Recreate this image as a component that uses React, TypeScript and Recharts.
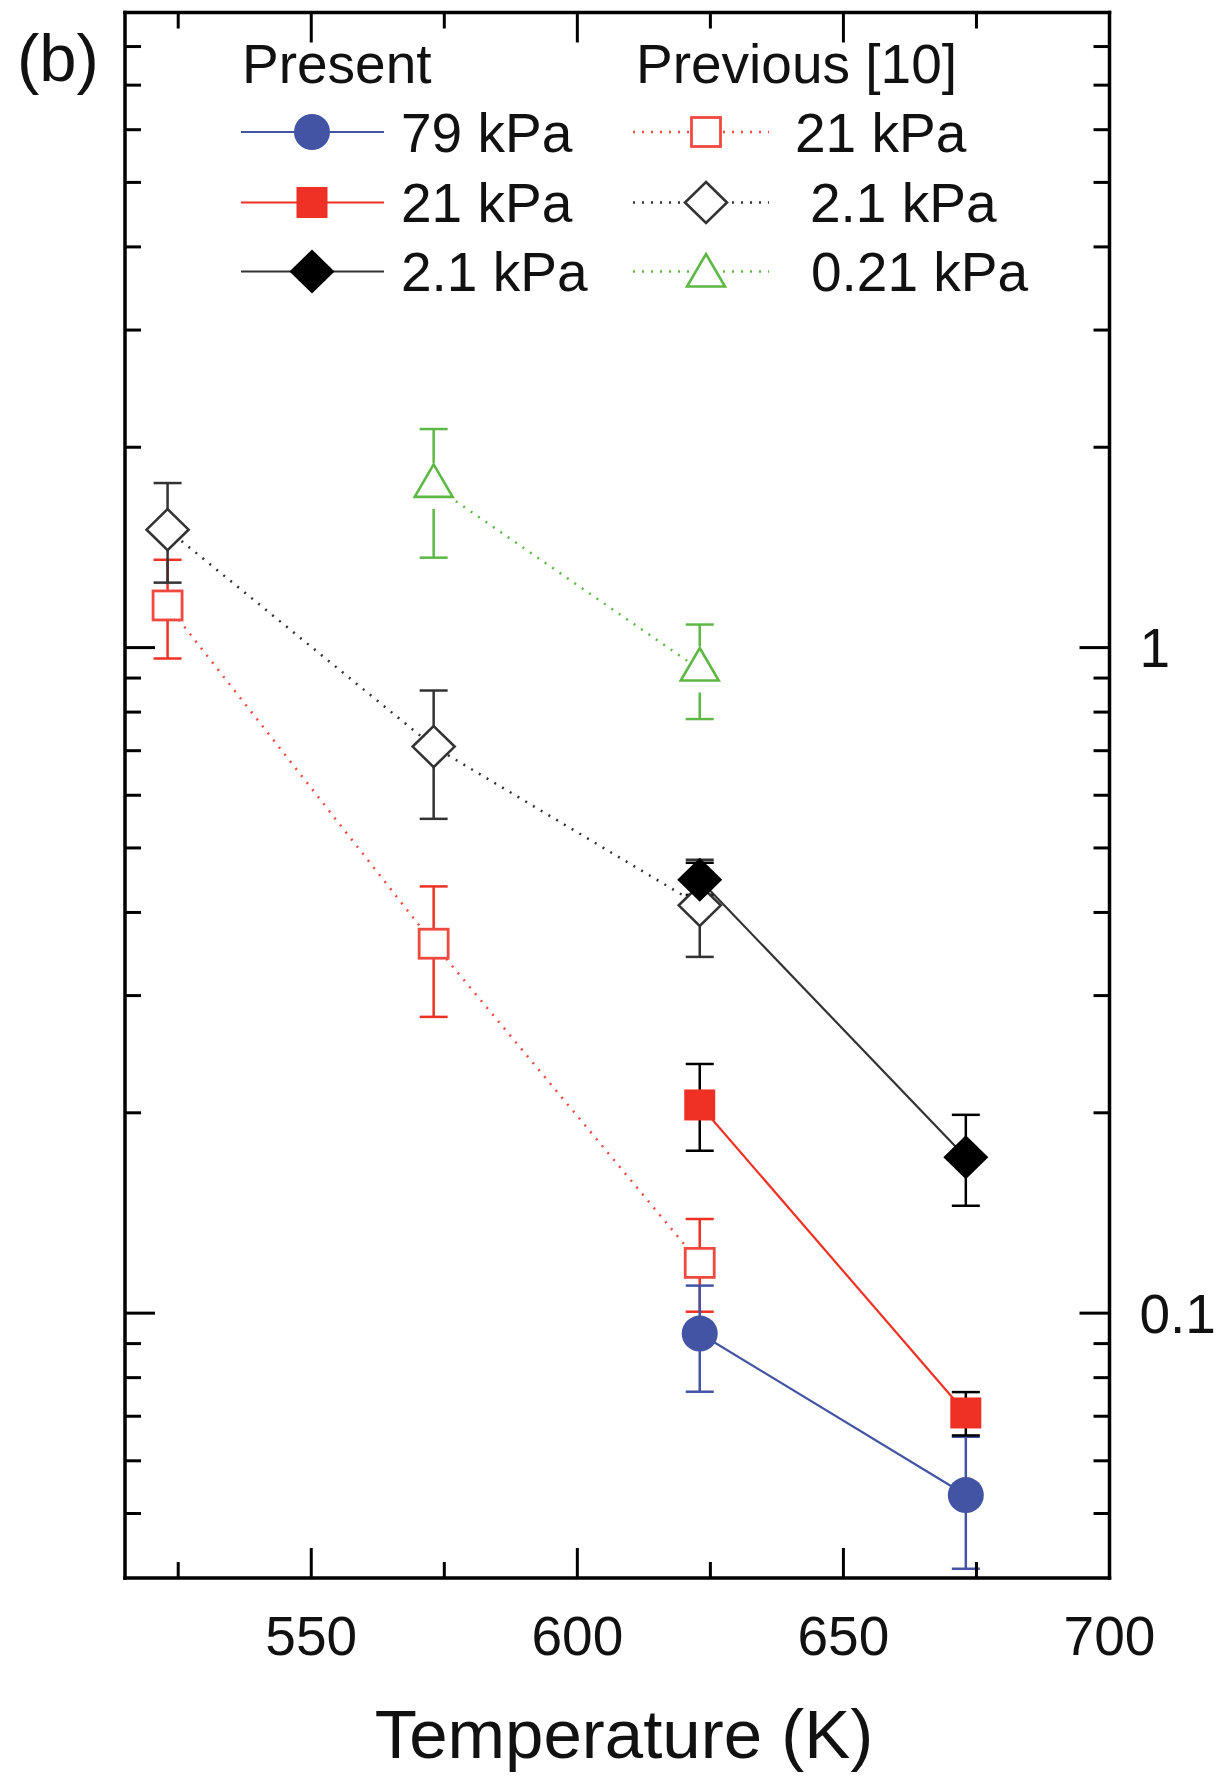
import React from 'react';
import { ComposedChart, Line, XAxis, YAxis, ErrorBar, Customized } from 'recharts';

const FONT = '"Liberation Sans", Arial, Helvetica, sans-serif';

// Temperatures (K)
const presentT = [623, 673];
const previousT = [523, 573, 623];
const previous021T = [573, 623];

// Present: 79 kPa
const present79K = [0.0932, 0.0533];
const present79Lo = [0.0762, 0.0413];
const present79Hi = [0.11, 0.0652];
// Present: 21 kPa
const present21K = [0.2055, 0.0708];
const present21Lo = [0.1754, 0.0655];
const present21Hi = [0.2368, 0.0761];
// Present: 2.1 kPa
const present2K = [0.448, 0.1715];
const present2Lo = [0.425, 0.145];
const present2Hi = [0.475, 0.1986];

// Previous [10]: 21 kPa
const prev21K = [1.157, 0.359, 0.119];
const prev21Lo = [0.963, 0.2787, 0.1005];
const prev21Hi = [1.355, 0.4377, 0.1385];
// Previous [10]: 2.1 kPa
const prev2K = [1.504, 0.71, 0.41];
const prev2Lo = [1.252, 0.553, 0.343];
const prev2Hi = [1.767, 0.862, 0.48];
// Previous [10]: 0.21 kPa
const prev021K = [1.75, 0.927];
const prev021Lo = [1.365, 0.781];
const prev021Hi = [2.13, 1.083];

const xTicks = [525, 550, 575, 600, 625, 650, 675, 700];
const xMajor = [550, 600, 650, 700];
const xLabels = [550, 600, 650, 700];
const yTicks = [0.05, 0.06, 0.07, 0.08, 0.09, 0.1, 0.2, 0.3, 0.4, 0.5, 0.6, 0.7, 0.8, 0.9, 1, 2, 3, 4, 5, 6, 7, 8];
const yLabels = [0.1, 1];
const yLabelText = ['0.1', '1'];

const BLUE = '#4454a4';
const RED = '#ee3124';
const RED_OPEN = '#f0493f';
const BLACK = '#000000';
const GREY = '#333333';
const GREEN = '#5db845';

const build = (T: number[], K: number[], Lo: number[], Hi: number[]) =>
  T.map((t, i) => ({ T: t, k: K[i], err: [K[i] - Lo[i], Hi[i] - K[i]] }));

const dPresent79 = build(presentT, present79K, present79Lo, present79Hi);
const dPresent21 = build(presentT, present21K, present21Lo, present21Hi);
const dPresent2 = build(presentT, present2K, present2Lo, present2Hi);
const dPrev21 = build(previousT, prev21K, prev21Lo, prev21Hi);
const dPrev2 = build(previousT, prev2K, prev2Lo, prev2Hi);
const dPrev021 = build(previous021T, prev021K, prev021Lo, prev021Hi);

// ---- marker shapes ----
const Circle = ({ cx, cy }: any) => <circle cx={cx} cy={cy} r={18} fill={BLUE} />;
const FSquare = ({ cx, cy }: any) => <rect x={cx - 15.5} y={cy - 15.5} width={31} height={31} fill={RED} />;
const FDiamond = ({ cx, cy }: any) => (
  <polygon points={`${cx},${cy - 22} ${cx + 22.5},${cy} ${cx},${cy + 22} ${cx - 22.5},${cy}`} fill={BLACK} />
);
const OSquare = ({ cx, cy }: any) => (
  <rect x={cx - 14.5} y={cy - 14.5} width={29} height={29} fill="#fff" stroke={RED_OPEN} strokeWidth={2.8} />
);
const ODiamond = ({ cx, cy }: any) => (
  <polygon
    points={`${cx},${cy - 20.5} ${cx + 21},${cy} ${cx},${cy + 20.5} ${cx - 21},${cy}`}
    fill="#fff"
    stroke={GREY}
    strokeWidth={2.6}
  />
);
const OTriangle = ({ cx, cy, gap = true }: any) => (
  <g>
    {gap && <rect x={cx - 3} y={cy - 23} width={6} height={46} fill="#fff" />}
    <polygon
      points={`${cx},${cy - 21.5} ${cx + 19},${cy + 11} ${cx - 19},${cy + 11}`}
      fill="#fff"
      stroke={GREEN}
      strokeWidth={2.6}
    />
  </g>
);

const dotOf = (Shape: any, name: string) => (p: any) =>
  p.cx == null || p.cy == null ? <g key={`${name}-${p.index}`} /> : <Shape key={`${name}-${p.index}`} cx={p.cx} cy={p.cy} />;

// ---- axis ticks (drawn inward) ----
const BottomTick = (props: any) => {
  const { x, y, payload } = props;
  const v = payload.value;
  const len = xMajor.includes(v) ? 30 : 16;
  return (
    <g>
      {v < 700 && <line x1={x} x2={x} y1={y} y2={y - len} stroke="#000" strokeWidth={3} />}
      {xLabels.includes(v) && (
        <text x={x} y={y + 77} textAnchor="middle" fontSize={55} fontFamily={FONT} fill="#111">
          {v}
        </text>
      )}
    </g>
  );
};
const TopTick = (props: any) => {
  const { x, y, payload } = props;
  const v = payload.value;
  const len = xMajor.includes(v) ? 30 : 16;
  if (v >= 700) return <g />;
  return <line x1={x} x2={x} y1={y} y2={y + len} stroke="#000" strokeWidth={3} />;
};
const LeftTick = (props: any) => {
  const { x, y, payload } = props;
  const len = yLabels.includes(payload.value) ? 30 : 16;
  return <line x1={x} x2={x + len} y1={y} y2={y} stroke="#000" strokeWidth={3} />;
};
const RightTick = (props: any) => {
  const { x, y, payload } = props;
  const idx = yLabels.indexOf(payload.value);
  const len = idx >= 0 ? 30 : 16;
  return (
    <g>
      <line x1={x} x2={x - len} y1={y} y2={y} stroke="#000" strokeWidth={3} />
      {idx >= 0 && (
        <text x={x + 30} y={y + 19.5} textAnchor="start" fontSize={55} fontFamily={FONT} fill="#111">
          {yLabelText[idx]}
        </text>
      )}
    </g>
  );
};

// ---- legend + labels ----
const legendLeft = [
  { label: '79 kPa', color: BLUE, Shape: Circle, tx: 401 },
  { label: '21 kPa', color: RED, Shape: FSquare, tx: 401 },
  { label: '2.1 kPa', color: GREY, Shape: FDiamond, tx: 401 },
];
const legendRight = [
  { label: '21 kPa', color: RED_OPEN, Shape: OSquare, tx: 795 },
  { label: '2.1 kPa', color: GREY, Shape: ODiamond, tx: 810 },
  { label: '0.21 kPa', color: GREEN, Shape: OTriangle, tx: 811 },
];
const legendRows = [132, 202.5, 271.5];

const Decorations = () => (
  <g fontFamily={FONT} fill="#111">
    <text x={17} y={81} fontSize={67}>(b)</text>
    <text x={242} y={83} fontSize={55}>Present</text>
    <text x={636} y={83} fontSize={55}>Previous [10]</text>
    {legendLeft.map((e, i) => (
      <g key={`ll${i}`}>
        <line x1={241} x2={384} y1={legendRows[i]} y2={legendRows[i]} stroke={e.color} strokeWidth={2.2} />
        <e.Shape cx={312} cy={legendRows[i]} />
        <text x={e.tx} y={legendRows[i] + 19.5} fontSize={55}>{e.label}</text>
      </g>
    ))}
    {legendRight.map((e, i) => (
      <g key={`lr${i}`}>
        <line x1={633} x2={769} y1={legendRows[i]} y2={legendRows[i]} stroke={e.color} strokeWidth={2.5} strokeDasharray="2 7" />
        <e.Shape cx={706} cy={legendRows[i] + (e.Shape === OTriangle ? 4 : 0)} gap={false} />
        <text x={e.tx} y={legendRows[i] + 19.5} fontSize={55}>{e.label}</text>
      </g>
    ))}
    <text x={624} y={1758} fontSize={69} textAnchor="middle">Temperature (K)</text>
  </g>
);

const axisLine = { stroke: '#000', strokeWidth: 3.5, strokeLinecap: 'square' as const };

export default function App() {
  return (
    <div style={{ position: 'absolute', left: 0, top: 0 }}>
      <ComposedChart width={1225} height={1776} margin={{ top: 2.5, right: 15.5, bottom: 48, left: 65 }}>
        <XAxis
          xAxisId="b"
          type="number"
          dataKey="T"
          domain={[515, 700]}
          ticks={xTicks}
          interval={0}
          allowDataOverflow
          height={150}
          tickSize={0}
          tickMargin={0}
          tickLine={false}
          axisLine={axisLine}
          tick={<BottomTick />}
        />
        <XAxis
          xAxisId="t"
          orientation="top"
          type="number"
          dataKey="T"
          domain={[515, 700]}
          ticks={xTicks}
          interval={0}
          allowDataOverflow
          height={10}
          tickSize={0}
          tickMargin={0}
          tickLine={false}
          axisLine={axisLine}
          tick={<TopTick />}
        />
        <YAxis
          yAxisId="l"
          type="number"
          scale="log"
          domain={[0.04, 9]}
          ticks={yTicks}
          interval={0}
          allowDataOverflow
          width={60}
          tickSize={0}
          tickMargin={0}
          tickLine={false}
          axisLine={axisLine}
          tick={<LeftTick />}
        />
        <YAxis
          yAxisId="r"
          orientation="right"
          type="number"
          scale="log"
          domain={[0.04, 9]}
          ticks={yTicks}
          interval={0}
          allowDataOverflow
          width={100}
          tickSize={0}
          tickMargin={0}
          tickLine={false}
          axisLine={axisLine}
          tick={<RightTick />}
        />

        {/* Previous [10] */}
        <Line data={dPrev21} xAxisId="b" yAxisId="l" dataKey="k" type="linear" stroke={RED_OPEN} strokeWidth={2.5}
          strokeDasharray="2 7" dot={dotOf(OSquare, 'p21')} activeDot={false} isAnimationActive={false} legendType="none">
          <ErrorBar dataKey="err" direction="y" width={14} stroke={RED} strokeWidth={2.5} />
        </Line>
        <Line data={dPrev2} xAxisId="b" yAxisId="l" dataKey="k" type="linear" stroke={GREY} strokeWidth={2.5}
          strokeDasharray="2 7" dot={dotOf(ODiamond, 'p2')} activeDot={false} isAnimationActive={false} legendType="none">
          <ErrorBar dataKey="err" direction="y" width={14} stroke={GREY} strokeWidth={2.5} />
        </Line>
        <Line data={dPrev021} xAxisId="b" yAxisId="l" dataKey="k" type="linear" stroke={GREEN} strokeWidth={2.5}
          strokeDasharray="2 7" dot={dotOf(OTriangle, 'p021')} activeDot={false} isAnimationActive={false} legendType="none">
          <ErrorBar dataKey="err" direction="y" width={14} stroke={GREEN} strokeWidth={2.5} />
        </Line>

        {/* Present */}
        <Line data={dPresent79} xAxisId="b" yAxisId="l" dataKey="k" type="linear" stroke={BLUE} strokeWidth={2.2}
          dot={dotOf(Circle, 'n79')} activeDot={false} isAnimationActive={false} legendType="none">
          <ErrorBar dataKey="err" direction="y" width={14} stroke={BLUE} strokeWidth={2.5} />
        </Line>
        <Line data={dPresent21} xAxisId="b" yAxisId="l" dataKey="k" type="linear" stroke={RED} strokeWidth={2.2}
          dot={dotOf(FSquare, 'n21')} activeDot={false} isAnimationActive={false} legendType="none">
          <ErrorBar dataKey="err" direction="y" width={14} stroke={BLACK} strokeWidth={2.5} />
        </Line>
        <Line data={dPresent2} xAxisId="b" yAxisId="l" dataKey="k" type="linear" stroke={GREY} strokeWidth={2.2}
          dot={dotOf(FDiamond, 'n2')} activeDot={false} isAnimationActive={false} legendType="none">
          <ErrorBar dataKey="err" direction="y" width={14} stroke={BLACK} strokeWidth={2.5} />
        </Line>

        <Customized component={<Decorations />} />
      </ComposedChart>
    </div>
  );
}
